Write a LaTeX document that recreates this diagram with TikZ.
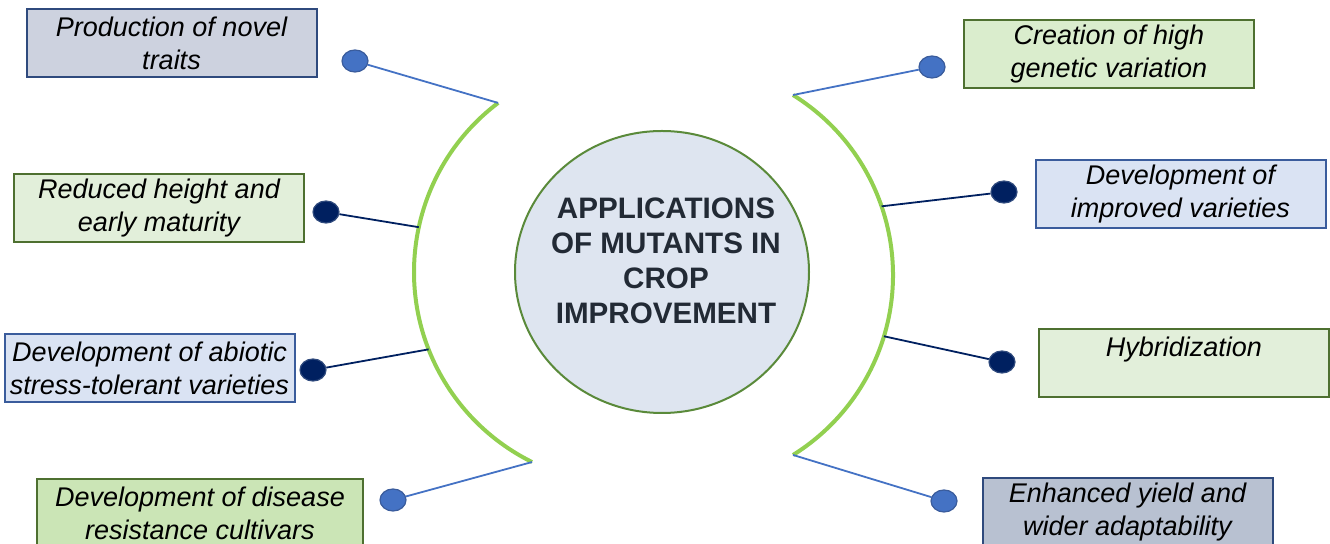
\documentclass[tikz,border=0pt]{standalone}
\usepackage{fontspec}
\setmainfont{Liberation Sans}
\usepackage{xcolor}
\usepackage{tikz}
\usetikzlibrary{shapes.geometric, positioning, calc, backgrounds}

\definecolor{boxgray}{HTML}{CDD2DF}
\definecolor{boxgraydark}{HTML}{B8C1D1}
\definecolor{boxgreen}{HTML}{E2EFDA}
\definecolor{boxgreenmid}{HTML}{DAEDCD}
\definecolor{boxgreendeep}{HTML}{CBE5B6}
\definecolor{boxblue}{HTML}{DAE3F3}
\definecolor{edgenavy}{HTML}{2F4A7D}
\definecolor{edgegreen}{HTML}{4E7030}
\definecolor{edgeblue}{HTML}{3A5C9C}
\definecolor{dotblue}{HTML}{4472C4}
\definecolor{dotnavy}{HTML}{002060}
\definecolor{arcgreen}{HTML}{92D050}
\definecolor{hubfill}{HTML}{DEE5F0}
\definecolor{hubedge}{HTML}{5A8A3A}
\definecolor{hubtext}{HTML}{222A35}

\begin{document}
\begin{tikzpicture}[
    x=0.5pt, y=-0.5pt,
    % styles
    item_box/.style={
        draw, line width=1pt, inner sep=0pt, align=center,
        minimum width=145pt, minimum height=34pt,
        font=\fontsize{13.5}{16.5}\selectfont\itshape
    },
    gray_box/.style={item_box, fill=boxgray, draw=edgenavy},
    green_box/.style={item_box, fill=boxgreen, draw=edgegreen},
    blue_box/.style={item_box, fill=boxblue, draw=edgeblue},
    hub_circle/.style={
        ellipse, draw=hubedge, fill=hubfill, line width=1pt,
        minimum width=147pt, minimum height=141pt
    },
    hub_text/.style={
        align=center, text=hubtext,
        font=\fontsize{14.8}{17.5}\selectfont\bfseries
    },
    dot/.style={
        ellipse, inner sep=0pt, minimum width=13pt, minimum height=11pt, line width=0.6pt
    },
    dot_blue/.style={dot, fill=dotblue, draw=edgeblue},
    dot_navy/.style={dot, fill=dotnavy, draw=edgenavy},
    arc_line/.style={draw=arcgreen, line width=2pt},
    blue_link/.style={draw=dotblue, line width=0.9pt},
    navy_link/.style={draw=dotnavy, line width=0.9pt}
]

    \useasboundingbox (0,0) rectangle (1330,544);

    % --- 1. CENTRAL HUB ---
    \node[hub_circle] (hub) at (662,272) {};
    \node[hub_text] (hub_label) at (666,261) {APPLICATIONS\\OF MUTANTS IN\\CROP\\IMPROVEMENT};

    % --- 2. LEFT SIDE BOXES ---
    \node[gray_box] (novel) at (171.5,43.5) {Production of novel\\traits};
    \node[green_box] (height) at (159,208) {Reduced height and\\early maturity};
    \node[blue_box] (abiotic) at (149.5,368) {Development of abiotic\\stress-tolerant varieties};
    \node[green_box, fill=boxgreendeep, minimum width=163pt] (disease) at (200,513.5) {Development of disease\\resistance cultivars};

    % --- 3. RIGHT SIDE BOXES ---
    \node[green_box, fill=boxgreenmid] (variation) at (1109,54) {Creation of high\\genetic variation};
    \node[blue_box] (improved) at (1180.5,194) {Development of\\improved varieties};
    \node[green_box] (hybrid) at (1184,363) {Hybridization\\\mbox{}};
    \node[gray_box, fill=boxgraydark] (yield) at (1127.5,512) {Enhanced yield and\\wider adaptability};

    % --- 4. DOTS ---
    \node[dot_blue] (dot_novel) at (355,61) {};
    \node[dot_navy] (dot_height) at (326,212) {};
    \node[dot_navy] (dot_abiotic) at (313,370) {};
    \node[dot_blue] (dot_disease) at (393,500) {};
    \node[dot_blue] (dot_variation) at (932,67) {};
    \node[dot_navy] (dot_improved) at (1004,192) {};
    \node[dot_navy] (dot_hybrid) at (1002,362) {};
    \node[dot_blue] (dot_yield) at (944,501) {};

    % --- 5. ARCS AND LINKS ---
    \coordinate (left_c) at (626,272);
    \coordinate (right_c) at (681,275);
    \coordinate (left_top) at ($(left_c)+(-127.1:212)$);
    \coordinate (left_up) at ($(left_c)+(-167.8:212)$);
    \coordinate (left_low) at ($(left_c)+(158.6:212)$);
    \coordinate (left_bot) at ($(left_c)+(116.3:212)$);
    \coordinate (right_top) at ($(right_c)+(-58.1:212)$);
    \coordinate (right_up) at ($(right_c)+(-18.9:212)$);
    \coordinate (right_low) at ($(right_c)+(16.8:212)$);
    \coordinate (right_bot) at ($(right_c)+(58.1:212)$);

    \begin{scope}[on background layer]
        \draw[arc_line] (left_top) arc[start angle=-127.1, end angle=-243.7, radius=212];
        \draw[arc_line] (right_top) arc[start angle=-58.1, end angle=58.1, radius=212];

        \draw[blue_link] (dot_novel) -- (left_top);
        \draw[navy_link] (dot_height) -- (left_up);
        \draw[navy_link] (dot_abiotic) -- (left_low);
        \draw[blue_link] (dot_disease) -- (left_bot);
        \draw[blue_link] (dot_variation) -- (right_top);
        \draw[navy_link] (dot_improved) -- (right_up);
        \draw[navy_link] (dot_hybrid) -- (right_low);
        \draw[blue_link] (dot_yield) -- (right_bot);
    \end{scope}

\end{tikzpicture}
\end{document}
